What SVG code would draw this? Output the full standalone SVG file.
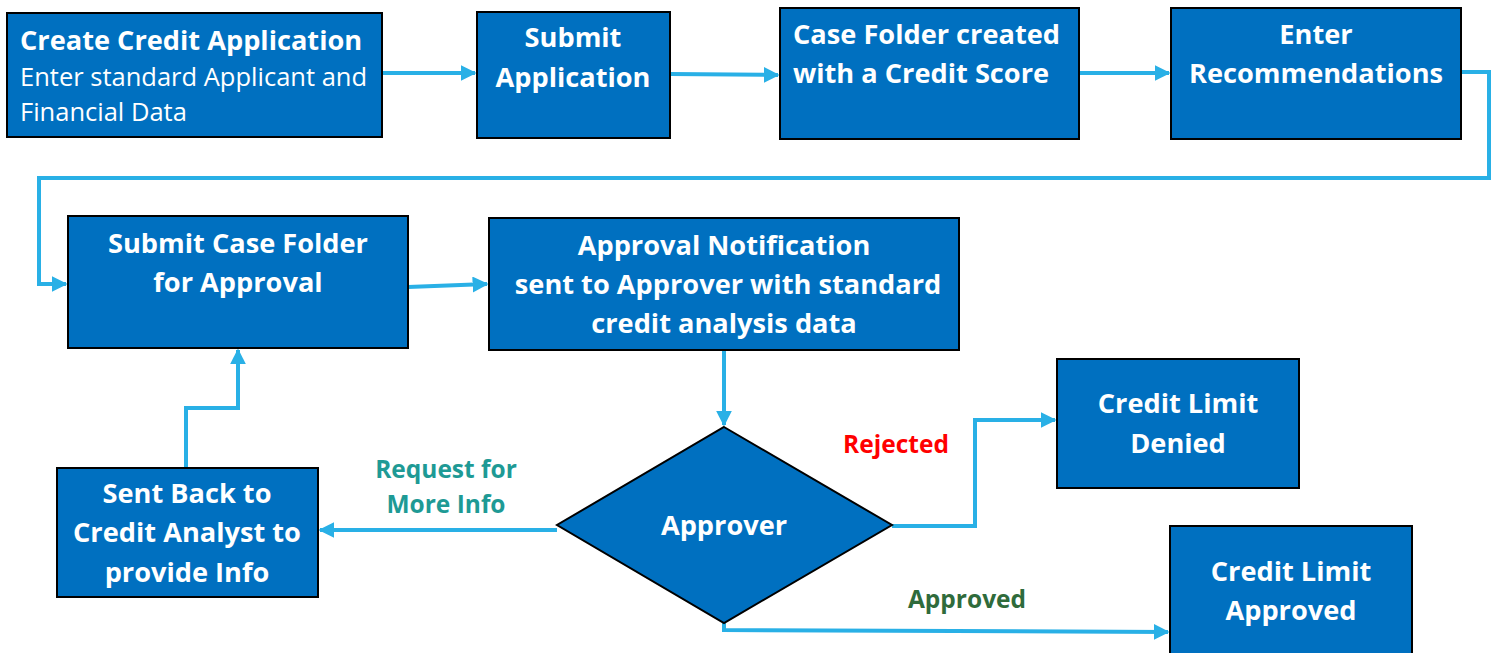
<svg xmlns="http://www.w3.org/2000/svg" width="1501" height="653" viewBox="0 0 1501 653">
<defs>
<style>
.box{fill:#0070C0;stroke:#000;stroke-width:2}
.t{font-family:"Open Sans","Noto Sans",sans-serif;font-weight:bold;font-size:27.2px;fill:#fff;text-anchor:middle}
.tl{text-anchor:start}
.r{font-weight:normal;font-size:25.5px}
.c{fill:none;stroke:#29B0E6;stroke-width:4;stroke-linejoin:miter}
.lab{font-family:"Open Sans","Noto Sans",sans-serif;font-weight:bold;font-size:24.5px;text-anchor:middle}
</style>
<marker id="ah" viewBox="0 0 10 10" refX="9" refY="5" markerWidth="4" markerHeight="4" markerUnits="strokeWidth" orient="auto">
<path d="M0,0 L10,5 L0,10 z" fill="#29B0E6"/>
</marker>
</defs>
<rect width="1501" height="653" fill="#fff"/>
<g id="connectors">
<path class="c" d="M382,73 L475,73" marker-end="url(#ah)"/>
<path class="c" d="M670,74 L778,75" marker-end="url(#ah)"/>
<path class="c" d="M1079,73 L1169,73" marker-end="url(#ah)"/>
<path class="c" d="M1461,72 L1489,72 L1489,178 L39,178 L39,284 L66,284" marker-end="url(#ah)"/>
<path class="c" d="M408,287 L487,284" marker-end="url(#ah)"/>
<path class="c" d="M724,350 L724,425" marker-end="url(#ah)"/>
<path class="c" d="M557,530 L320,530" marker-end="url(#ah)"/>
<path class="c" d="M186,468 L186,408 L238,408 L238,350" marker-end="url(#ah)"/>
<path class="c" d="M892,526 L975,526 L975,420 L1055,420" marker-end="url(#ah)"/>
<path class="c" d="M724,623 L724,630 L1168,632" marker-end="url(#ah)"/>
</g>
<g id="n1"><rect class="box" x="7" y="13" width="375" height="124"/>
<text class="t tl" x="20" y="50">Create Credit Application</text>
<text class="t tl r" x="20" y="86">Enter standard Applicant and</text>
<text class="t tl r" x="20" y="121">Financial Data</text></g>
<g id="n2"><rect class="box" x="477" y="12" width="193" height="126"/>
<text class="t" x="573" y="47">Submit</text>
<text class="t" x="573" y="87">Application</text></g>
<g id="n3"><rect class="box" x="780" y="8" width="299" height="131"/>
<text class="t tl" x="793" y="44">Case Folder created</text>
<text class="t tl" x="793" y="83">with a Credit Score</text></g>
<g id="n4"><rect class="box" x="1171" y="8" width="290" height="131"/>
<text class="t" x="1316" y="44">Enter</text>
<text class="t" x="1316" y="83">Recommendations</text></g>
<g id="n5"><rect class="box" x="68" y="216" width="340" height="132"/>
<text class="t" x="238" y="253">Submit Case Folder</text>
<text class="t" x="238" y="292">for Approval</text></g>
<g id="n6"><rect class="box" x="489" y="218" width="470" height="132"/>
<text class="t" x="724" y="255">Approval Notification</text>
<text class="t" x="728" y="294">sent to Approver with standard</text>
<text class="t" x="724" y="333">credit analysis data</text></g>
<g id="n7"><path class="box" d="M724,427 L892,525 L724,623 L557,525 Z"/>
<text class="t" x="724" y="535">Approver</text></g>
<g id="n8"><rect class="box" x="57" y="468" width="261" height="129"/>
<text class="t" x="187" y="503">Sent Back to</text>
<text class="t" x="187" y="542">Credit Analyst to</text>
<text class="t" x="187" y="582">provide Info</text></g>
<g id="n9"><rect class="box" x="1057" y="359" width="242" height="129"/>
<text class="t" x="1178" y="413">Credit Limit</text>
<text class="t" x="1178" y="453">Denied</text></g>
<g id="n10"><rect class="box" x="1170" y="526" width="242" height="140"/>
<text class="t" x="1291" y="581">Credit Limit</text>
<text class="t" x="1291" y="620">Approved</text></g>
<g id="labels">
<text class="lab" x="446" y="478" fill="#1E9A95">Request for</text>
<text class="lab" x="446" y="513" fill="#1E9A95">More Info</text>
<text class="lab" x="896" y="453" fill="#FF0000">Rejected</text>
<text class="lab" x="967" y="608" fill="#2F6B3B">Approved</text>
</g>
</svg>
